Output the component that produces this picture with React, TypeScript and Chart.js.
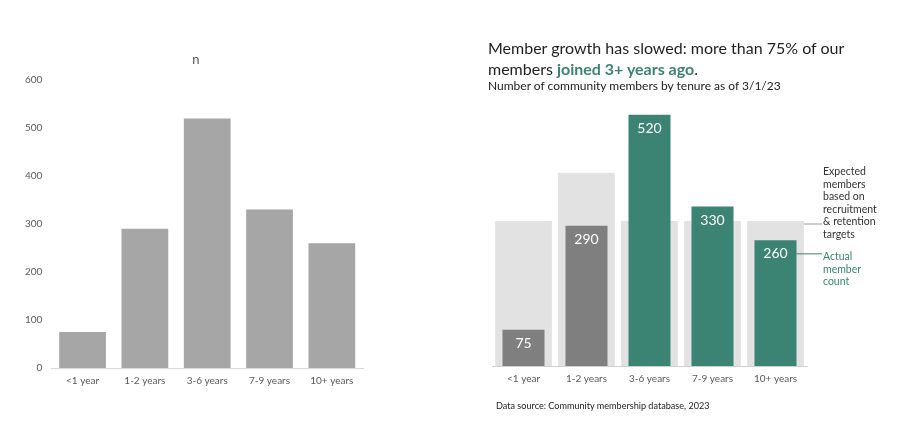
import { useEffect, useRef } from "react";
import { Chart, registerables } from "chart.js";

Chart.register(...registerables);

const FONT = "Lato, 'Open Sans', sans-serif";

const categories = ["<1 year", "1-2 years", "3-6 years", "7-9 years", "10+ years"];
const memberCounts = [75, 290, 520, 330, 260];
const expectedMembers = [300, 400, 300, 300, 300];
const highlighted = [false, false, true, true, true];
const yMax = 600;
const yStep = 100;

const TEAL = "#3b8473";
const DARK_GRAY = "#7f7f7f";
const LIGHT_GRAY = "#e2e2e2";

export default function App() {
  const leftRef = useRef<HTMLCanvasElement>(null);
  const rightRef = useRef<HTMLCanvasElement>(null);

  useEffect(() => {
    const left = new Chart(leftRef.current!, {
      type: "bar",
      data: {
        labels: categories,
        datasets: [
          {
            data: memberCounts,
            backgroundColor: "#a6a6a6",
            barPercentage: 0.75,
            categoryPercentage: 1,
          },
        ],
      },
      options: {
        responsive: true,
        maintainAspectRatio: false,
        animation: false,
        layout: { padding: { left: 16, right: 37, top: 80, bottom: 37 } },
        plugins: {
          legend: { display: false },
          tooltip: { enabled: false },
          title: { display: false },
        },
        scales: {
          x: {
            grid: { display: false, drawTicks: false, tickLength: 0 },
            border: { display: true, color: "#d9d9d9" },
            ticks: { color: "#595959", font: { family: FONT, size: 10 }, padding: 7 },
          },
          y: {
            min: 0,
            max: yMax,
            grid: { display: false, drawTicks: false, tickLength: 0 },
            border: { display: false },
            ticks: { stepSize: yStep, color: "#595959", font: { family: FONT, size: 10 }, padding: 9 },
          },
        },
      },
    });

    const annotate = {
      id: "annotate",
      afterDatasetsDraw(chart: any) {
        const ctx = chart.ctx;
        const actual = chart.getDatasetMeta(0);
        const expected = chart.getDatasetMeta(1);
        ctx.save();
        ctx.fillStyle = "#ffffff";
        ctx.font = `14px ${FONT}`;
        ctx.textAlign = "center";
        ctx.textBaseline = "middle";
        actual.data.forEach((bar: any, i: number) => {
          ctx.fillText(String(memberCounts[i]), bar.x, bar.y + 13.5);
        });
        const last = categories.length - 1;
        const eb = expected.data[last];
        const ab = actual.data[last];
        const endX = chart.chartArea.right + 15;
        ctx.lineWidth = 1;
        ctx.strokeStyle = "#9a9a9a";
        ctx.beginPath();
        ctx.moveTo(eb.x + eb.width / 2, eb.y + 3);
        ctx.lineTo(endX, eb.y + 3);
        ctx.stroke();
        ctx.strokeStyle = TEAL;
        ctx.beginPath();
        ctx.moveTo(ab.x + ab.width / 2, ab.y + 13.5);
        ctx.lineTo(endX, ab.y + 13.5);
        ctx.stroke();
        ctx.restore();
      },
    };

    const right = new Chart(rightRef.current!, {
      type: "bar",
      data: {
        labels: categories,
        datasets: [
          {
            data: memberCounts,
            backgroundColor: highlighted.map((h) => (h ? TEAL : DARK_GRAY)),
            barPercentage: 0.667,
            categoryPercentage: 1,
            grouped: false,
            order: 0,
          },
          {
            data: expectedMembers,
            backgroundColor: LIGHT_GRAY,
            barPercentage: 0.9,
            categoryPercentage: 1,
            grouped: false,
            order: 1,
          },
        ],
      },
      options: {
        responsive: true,
        maintainAspectRatio: false,
        animation: false,
        layout: { padding: { left: 12, right: 33, top: 76, bottom: 39 } },
        plugins: {
          legend: { display: false },
          tooltip: { enabled: false },
        },
        scales: {
          x: {
            grid: { display: false, drawTicks: false, tickLength: 0 },
            border: { display: true, color: "#d0d0d0" },
            ticks: { color: "#595959", font: { family: FONT, size: 10 }, padding: 7 },
          },
          y: { display: false, min: 0, max: yMax },
        },
      },
      plugins: [annotate],
    });

    return () => {
      left.destroy();
      right.destroy();
    };
  }, []);

  return (
    <div
      style={{
        position: "absolute",
        left: 0,
        top: 0,
        width: 900,
        height: 431,
        background: "#fff",
        overflow: "hidden",
        fontFamily: FONT,
      }}
    >
      <div style={{ position: "absolute", left: 0, top: 0, width: 400, height: 431 }}>
        <canvas ref={leftRef} />
      </div>
      <div style={{ position: "absolute", left: 176, top: 51, width: 40, textAlign: "center", fontSize: 13, lineHeight: "16px", color: "#555" }}>
        n
      </div>
      <div style={{ position: "absolute", left: 480, top: 0, width: 360, height: 431 }}>
        <canvas ref={rightRef} />
      </div>
      <div style={{ position: "absolute", left: 488, top: 37, fontSize: 16, lineHeight: "21px", color: "#1f1f1f", whiteSpace: "nowrap" }}>
        Member growth has slowed: more than 75% of our
        <br />
        members <span style={{ color: TEAL, fontWeight: "bold" }}>joined 3+ years ago</span>.
      </div>
      <div style={{ position: "absolute", left: 488, top: 78, fontSize: 12, lineHeight: "16px", color: "#222", whiteSpace: "nowrap" }}>
        Number of community members by tenure as of 3/1/23
      </div>
      <div style={{ position: "absolute", left: 823, top: 165, fontSize: 10.5, lineHeight: "12.5px", color: "#333", width: 80 }}>
        Expected
        <br />
        members
        <br />
        based on
        <br />
        recruitment
        <br />& retention
        <br />
        targets
      </div>
      <div style={{ position: "absolute", left: 823, top: 250, fontSize: 10.5, lineHeight: "12.5px", color: TEAL, width: 80 }}>
        Actual
        <br />
        member
        <br />
        count
      </div>
      <div style={{ position: "absolute", left: 496, top: 399, fontSize: 9.1, lineHeight: "14px", color: "#222", whiteSpace: "nowrap" }}>
        Data source: Community membership database, 2023
      </div>
    </div>
  );
}
